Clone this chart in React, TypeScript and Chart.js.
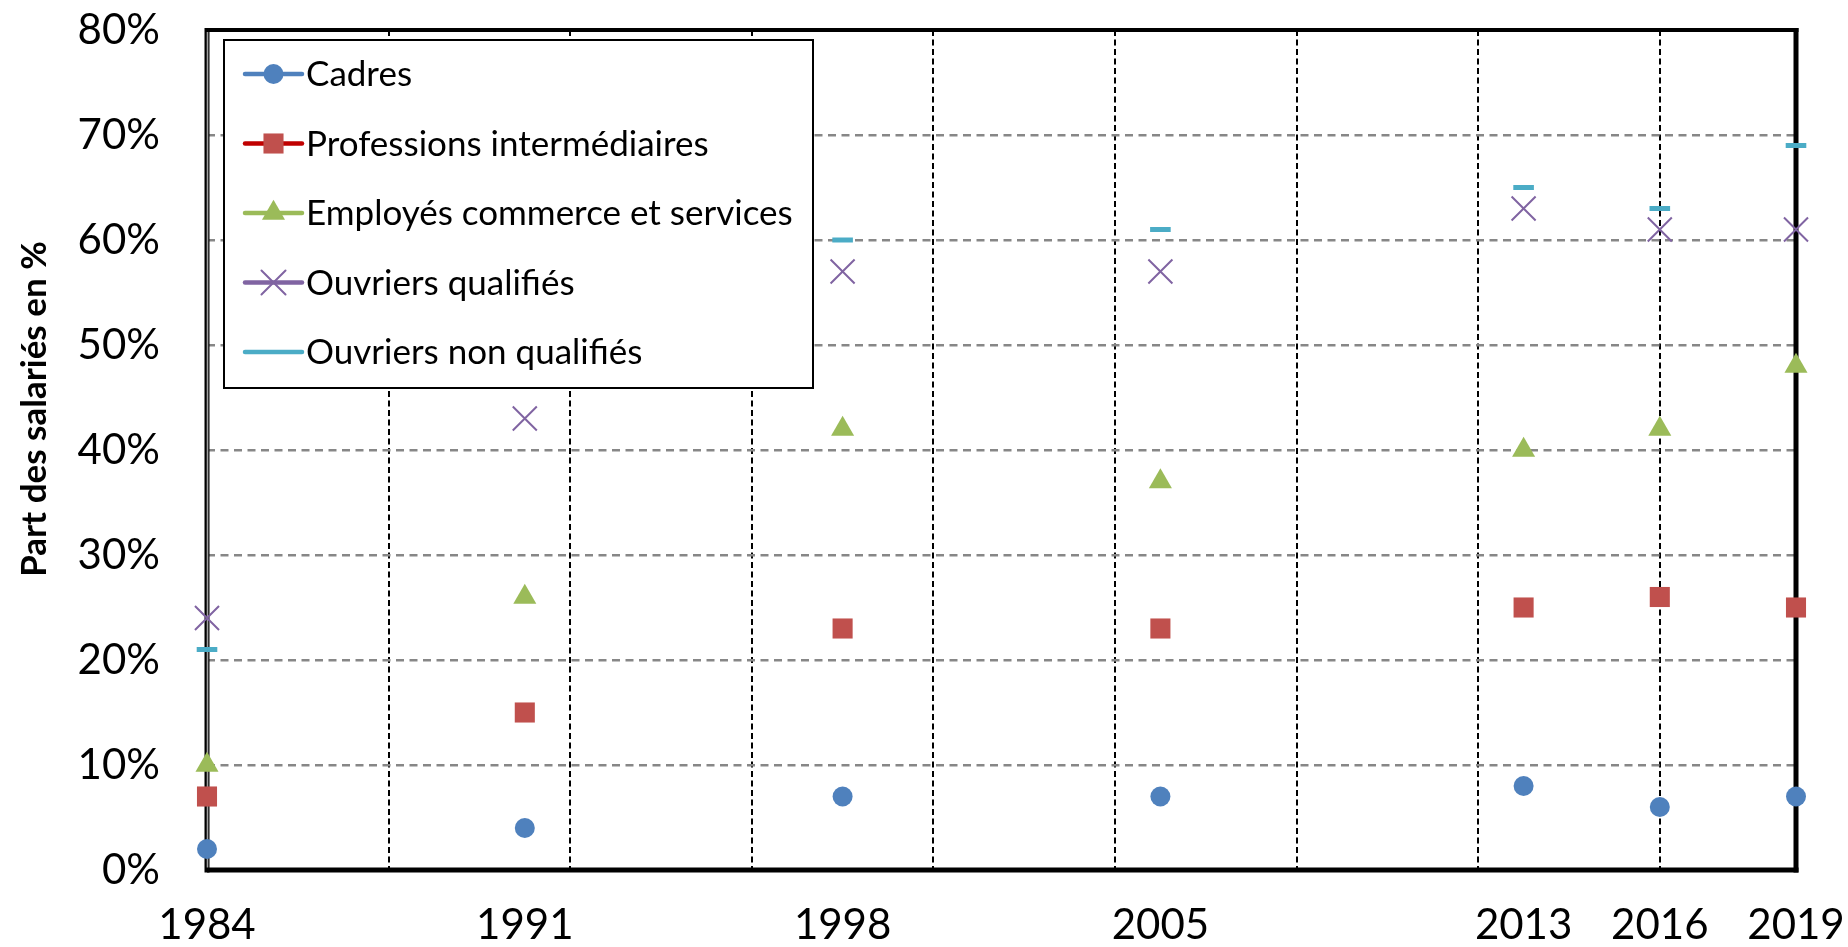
import React, { useEffect, useRef } from 'react';
import { Chart, registerables } from 'chart.js';

Chart.register(...registerables);

// ---- data ----
const years = [1984, 1991, 1998, 2005, 2013, 2016, 2019];
const tickYears = [1984, 1991, 1998, 2005, 2013, 2016, 2019];
const gridYears = [1988, 1992, 1996, 2000, 2004, 2008, 2012, 2016];
const yTickValues = [0, 10, 20, 30, 40, 50, 60, 70, 80];

const seriesNames = [
  'Cadres',
  'Professions intermédiaires',
  'Employés commerce et services',
  'Ouvriers qualifiés',
  'Ouvriers non qualifiés',
];
const cadres = [2, 4, 7, 7, 8, 6, 7];
const professions = [7, 15, 23, 23, 25, 26, 25];
const employes = [10, 26, 42, 37, 40, 42, 48];
const ouvriersQualifies = [24, 43, 57, 57, 63, 61, 61];
const ouvriersNonQualifies = [21, 48, 60, 61, 65, 63, 69];

const yAxisTitle = 'Part des salariés en %';

// ---- styles ----
const FONT = 'Lato';
const markerColors = ['#4F81BD', '#C0504D', '#9BBB59', '#8064A2', '#4BACC6'];
const legendLineColors = ['#4F81BD', '#C00000', '#9BBB59', '#8064A2', '#4BACC6'];
const pointStyles = ['circle', 'rect', 'triangle', 'crossRot', 'line'];
const pointRadii = [10, 14.2, 13.3, 17, 10.3];
const pointBorderWidths = [0, 0, 0, 2, 5];

const allSeries = [cadres, professions, employes, ouvriersQualifies, ouvriersNonQualifies];

function drawMarker(ctx: CanvasRenderingContext2D, i: number, x: number, y: number) {
  const style = pointStyles[i];
  const r = pointRadii[i];
  const c = markerColors[i];
  ctx.save();
  ctx.fillStyle = c;
  ctx.strokeStyle = c;
  ctx.beginPath();
  if (style === 'circle') {
    ctx.arc(x, y, r, 0, Math.PI * 2);
    ctx.fill();
  } else if (style === 'rect') {
    const s = Math.SQRT1_2 * r;
    ctx.rect(x - s, y - s, 2 * s, 2 * s);
    ctx.fill();
  } else if (style === 'triangle') {
    let rad = 0;
    ctx.moveTo(x + Math.sin(rad) * r, y - Math.cos(rad) * r);
    rad += (2 * Math.PI) / 3;
    ctx.lineTo(x + Math.sin(rad) * r, y - Math.cos(rad) * r);
    rad += (2 * Math.PI) / 3;
    ctx.lineTo(x + Math.sin(rad) * r, y - Math.cos(rad) * r);
    ctx.closePath();
    ctx.fill();
  } else if (style === 'crossRot') {
    const o = Math.SQRT1_2 * r;
    ctx.lineWidth = pointBorderWidths[i];
    ctx.moveTo(x - o, y - o);
    ctx.lineTo(x + o, y + o);
    ctx.moveTo(x - o, y + o);
    ctx.lineTo(x + o, y - o);
    ctx.stroke();
  }
  ctx.restore();
}

const zeroPad = (s: any) => {
  s.paddingTop = 0;
  s.paddingBottom = 0;
  s.paddingLeft = 0;
  s.paddingRight = 0;
};

const framePlugin = {
  id: 'frame',
  beforeDatasetsDraw(chart: any) {
    const { ctx, chartArea } = chart;
    const { left, right, top, bottom } = chartArea;
    ctx.save();
    ctx.fillStyle = '#000';
    ctx.fillRect(left, top - 2, right - left + 2.5, 4);
    ctx.fillRect(left, bottom - 2.5, right - left + 2.5, 5);
    ctx.fillRect(right - 2.5, top - 2, 5, bottom - top + 4.5);
    ctx.fillRect(left - 2.5, top - 2, 5, bottom - top + 4.5);
    ctx.fillStyle = '#a0a0a0';
    ctx.fillRect(left - 0.3, top + 2, 1.6, bottom - top - 4.5);
    ctx.restore();
  },
};

const legendPlugin = {
  id: 'boxLegend',
  afterDatasetsDraw(chart: any) {
    const { ctx, chartArea } = chart;
    const bx = chartArea.left + 17;
    const by = chartArea.top + 10;
    const bw = 589;
    const bh = 348;
    ctx.save();
    ctx.fillStyle = '#fff';
    ctx.fillRect(bx, by, bw, bh);
    ctx.strokeStyle = '#000';
    ctx.lineWidth = 2;
    ctx.strokeRect(bx, by, bw, bh);
    chart.data.datasets.forEach((ds: any, i: number) => {
      const y = by + 34 + i * 69.5;
      ctx.beginPath();
      ctx.strokeStyle = legendLineColors[i];
      ctx.lineWidth = 4.5;
      ctx.lineCap = 'round';
      ctx.moveTo(bx + 21, y);
      ctx.lineTo(bx + 78, y);
      ctx.stroke();
      drawMarker(ctx, i, bx + 49.5, y);
      ctx.fillStyle = '#000';
      ctx.font = `35px ${FONT}`;
      ctx.textAlign = 'left';
      ctx.textBaseline = 'middle';
      ctx.fillText(ds.label, bx + 82, y + 1);
    });
    ctx.restore();
  },
  afterDraw(chart: any) {
    const { ctx } = chart;
    ctx.save();
    ctx.translate(35, 409);
    ctx.rotate(-Math.PI / 2);
    ctx.fillStyle = '#000';
    ctx.font = `bold 35px ${FONT}`;
    ctx.textAlign = 'center';
    ctx.textBaseline = 'middle';
    ctx.fillText(yAxisTitle, 0, 0);
    ctx.restore();
  },
};

export default function App() {
  const canvasRef = useRef<HTMLCanvasElement | null>(null);

  useEffect(() => {
    const canvas = canvasRef.current;
    if (!canvas) return;
    const datasets = seriesNames.map((name, i) => ({
      label: name,
      data: years.map((yr, j) => ({ x: yr, y: allSeries[i][j] })),
      showLine: false,
      pointStyle: pointStyles[i],
      pointRadius: pointRadii[i],
      pointHoverRadius: pointRadii[i],
      pointBackgroundColor: markerColors[i],
      pointBorderColor: markerColors[i],
      pointBorderWidth: pointBorderWidths[i],
      backgroundColor: markerColors[i],
      borderColor: markerColors[i],
      clip: false as any,
    }));

    const chart = new Chart(canvas, {
      type: 'scatter',
      data: { datasets },
      plugins: [framePlugin, legendPlugin],
      options: {
        responsive: false,
        animation: false,
        events: [],
        layout: { padding: { top: 30, right: 52, left: 0, bottom: 0 } },
        plugins: {
          legend: { display: false },
          tooltip: { enabled: false },
          title: { display: false },
        },
        scales: {
          x: {
            type: 'linear',
            position: 'bottom',
            min: 1984,
            max: 2019,
            afterBuildTicks: (s: any) => {
              s.ticks = tickYears.map((v) => ({ value: v }));
            },
            afterFit: (s: any) => {
              s.height = 77;
              zeroPad(s);
            },
            grid: { display: false, drawTicks: false },
            border: { display: false },
            ticks: {
              autoSkip: false,
              maxRotation: 0,
              minRotation: 0,
              padding: 30,
              color: '#000',
              font: { family: FONT, size: 42 },
              callback: (v: any) => String(v),
            },
          },
          xg: {
            type: 'linear',
            position: 'bottom',
            min: 1984,
            max: 2019,
            afterBuildTicks: (s: any) => {
              s.ticks = gridYears.map((v) => ({ value: v }));
            },
            afterFit: (s: any) => {
              s.height = 0;
              zeroPad(s);
            },
            ticks: { display: false },
            grid: { color: '#000', lineWidth: 2, drawTicks: false },
            border: { display: false, dash: [6, 3.5] },
          },
          y: {
            type: 'linear',
            min: 0,
            max: 80,
            afterBuildTicks: (s: any) => {
              s.ticks = yTickValues.map((v) => ({ value: v }));
            },
            afterFit: (s: any) => {
              s.width = 207;
              zeroPad(s);
            },
            grid: {
              color: (c: any) =>
                c.tick && (c.tick.value === 0 || c.tick.value === 80) ? 'rgba(0,0,0,0)' : '#878787',
              lineWidth: 2.5,
              drawTicks: false,
            },
            border: { display: false, dash: [8, 5.5] },
            ticks: {
              padding: 47,
              color: '#000',
              font: { family: FONT, size: 42 },
              callback: (v: any) => `${v}%`,
            },
          },
        },
      } as any,
    });

    return () => {
      chart.destroy();
    };
  }, []);

  return (
    <div style={{ position: 'fixed', left: 0, top: 0, width: 1848, height: 947, background: '#fff' }}>
      <canvas ref={canvasRef} width={1848} height={947} style={{ display: 'block' }} />
    </div>
  );
}
